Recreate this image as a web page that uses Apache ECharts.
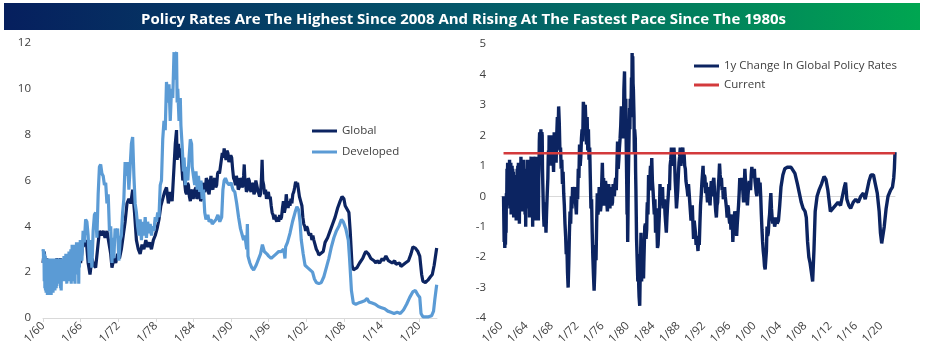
<!DOCTYPE html>
<html>
<head>
    <meta charset="utf-8">
    <title>Policy Rates</title>
    <script src="https://cdn.jsdelivr.net/npm/echarts@6/dist/echarts.min.js"></script>
    <style>
        body { margin: 0; background: #fff; }
    </style>
</head>
<body>
    <div id="main" style="width: 927px;height:352px;"></div>

    <script type="text/javascript">
        // [year, value]
        var globalRate = [[1960.0,2.4],[1960.2,2.9],[1960.4,2.2],[1960.6,2.6],[1960.8,2.0],[1961.0,2.5],[1961.3,2.1],[1961.6,2.5],[1961.9,2.1],[1962.2,2.6],[1962.5,2.2],[1962.8,2.6],[1963.0,1.7],[1963.3,2.4],[1963.6,1.8],[1963.9,2.6],[1964.2,1.8],[1964.5,2.7],[1964.8,1.9],[1965.1,2.8],[1965.4,2.0],[1965.7,2.9],[1966.0,2.4],[1966.3,3.1],[1966.6,3.2],[1966.9,3.4],[1967.2,2.4],[1967.5,1.9],[1967.8,2.6],[1968.1,2.3],[1968.4,2.2],[1968.7,3.0],[1969.0,3.8],[1969.3,3.6],[1969.6,3.8],[1969.9,3.5],[1970.2,3.8],[1970.5,3.3],[1970.8,2.8],[1971.0,2.2],[1971.3,2.6],[1971.6,2.4],[1971.9,2.8],[1972.2,2.6],[1972.5,3.0],[1972.8,3.6],[1973.1,4.2],[1973.4,5.0],[1973.7,5.2],[1974.0,5.0],[1974.3,5.6],[1974.6,4.6],[1974.9,3.4],[1975.2,3.0],[1975.5,2.8],[1975.8,3.2],[1976.1,3.0],[1976.4,3.4],[1976.7,3.1],[1977.0,3.3],[1977.3,3.0],[1977.6,3.4],[1977.9,3.6],[1978.2,3.9],[1978.5,4.3],[1978.8,4.9],[1979.1,5.2],[1979.4,5.5],[1979.7,5.7],[1980.0,5.0],[1980.3,5.5],[1980.6,5.1],[1980.9,6.6],[1981.1,7.6],[1981.3,8.2],[1981.4,6.9],[1981.6,7.6],[1981.8,7.0],
            [1982.0,7.4],[1982.15,6.6],[1982.3,6.0],[1982.45,6.3],[1982.6,5.9],[1982.75,5.5],[1982.9,5.4],[1983.05,5.9],[1983.2,5.8],[1983.35,5.3],[1983.5,5.1],[1983.65,5.5],[1983.8,5.6],[1983.95,5.2],[1984.1,5.2],[1984.25,5.6],[1984.4,5.7],[1984.55,5.2],[1984.7,5.3],[1984.85,5.7],[1985.0,5.6],[1985.15,5.1],[1985.3,5.2],[1985.45,5.7],[1985.6,5.9],[1985.75,5.5],[1985.9,5.6],[1986.05,6.1],[1986.2,6.0],[1986.35,5.5],[1986.5,5.4],[1986.65,5.9],[1986.8,6.2],[1986.95,5.7],[1987.1,5.6],[1987.25,6.0],[1987.4,6.1],[1987.55,5.7],[1987.7,5.8],[1987.85,6.3],[1988.0,6.4],[1988.15,6.3],[1988.3,6.6],[1988.45,6.9],[1988.6,7.2],[1988.75,7.0],[1988.9,7.4],[1989.05,7.1],[1989.2,6.9],[1989.35,7.3],[1989.5,7.2],[1989.65,6.8],[1989.8,6.8],[1989.95,7.1],[1990.1,7.0],[1990.25,6.5],[1990.4,6.1],[1990.55,6.0],[1990.7,5.8],[1990.85,6.2],[1991.0,6.0],[1991.15,5.6],[1991.3,5.7],[1991.45,6.1],[1991.6,6.0],[1991.75,5.7],[1991.9,5.8],[1992.0,6.2],[1992.1,6.7],[1992.2,6.1],[1992.3,5.9],[1992.45,5.5],[1992.6,5.6],[1992.75,6.1],[1992.9,6.0],[1993.05,5.6],[1993.2,5.5],[1993.35,5.9],[1993.5,5.8],[1993.65,5.4],[1993.8,5.5],[1993.95,6.0],[1994.1,6.0],[1994.25,5.6],[1994.4,5.6],[1994.55,5.3],[1994.7,5.4],[1994.85,6.1],[1994.95,6.9],[1995.05,6.0],[1995.2,5.8],[1995.35,5.4],[1995.5,5.6],[1995.65,5.2],[1995.8,5.4],[1995.95,5.5],[1996.1,5.2],[1996.25,5.3],[1996.4,4.9],[1996.55,4.6],[1996.7,4.5],[1996.85,4.3],[1997.0,4.5],[1997.15,4.3],[1997.3,4.2],[1997.45,4.4],[1997.6,4.2],[1997.75,4.5],[1997.9,4.3],[1998.05,4.4],[1998.2,4.8],[1998.35,5.1],[1998.5,4.6],[1998.65,4.8],[1998.8,5.4],[1998.95,5.0],[1999.1,4.8],[1999.25,5.1],[1999.4,4.9],[1999.55,5.2],[1999.7,5.0],[1999.85,5.4],[2000.0,5.5],[2000.15,5.7],[2000.3,5.95],[2000.45,5.8],[2000.6,5.9],[2000.75,5.6],[2000.9,5.3],
            [2001.1,5.1],[2001.3,4.9],[2001.45,4.4],[2001.6,4.1],[2001.75,4.0],[2001.9,3.8],[2002.05,4.0],[2002.2,3.9],[2002.35,3.7],[2002.5,3.6],[2002.7,3.7],[2002.9,3.4],[2003.05,3.6],[2003.2,3.4],[2003.4,3.2],[2003.6,3.0],[2003.8,2.9],[2004.0,2.75],[2004.3,2.7],[2004.7,2.9],[2005.0,3.3],[2005.4,3.5],[2005.8,3.8],[2006.2,4.1],[2006.6,4.4],[2007.0,4.8],[2007.4,5.1],[2007.7,5.3],[2008.0,5.2],[2008.2,4.9],[2008.4,4.8],[2008.6,4.7],[2008.8,4.6],[2009.0,3.8],[2009.3,2.3],[2009.5,2.1],[2009.7,2.1],[2010.1,2.2],[2010.5,2.4],[2011.0,2.6],[2011.3,2.8],[2011.5,2.9],[2011.9,2.8],[2012.3,2.6],[2012.8,2.5],[2013.1,2.4],[2013.3,2.5],[2013.7,2.4],[2014.1,2.6],[2014.3,2.5],[2014.5,2.5],[2014.7,2.7],[2014.9,2.7],[2015.1,2.5],[2015.3,2.5],[2015.7,2.4],[2016.1,2.5],[2016.3,2.35],[2016.5,2.3],[2016.9,2.4],[2017.1,2.25],[2017.3,2.3],[2017.8,2.4],[2018.3,2.5],[2018.7,2.8],[2019.0,3.1],[2019.4,3.05],[2019.8,2.9],[2020.1,2.7],[2020.4,1.9],[2020.6,1.6],[2021.0,1.55],[2021.4,1.65],[2021.8,1.8],[2022.1,1.9],[2022.4,2.3],[2022.8,3.05]]

        var developedRate = [[1960.00,2.9],[1960.05,3.0],[1960.10,2.4],[1960.15,2.9],[1960.20,1.6],[1960.25,2.8],[1960.30,1.3],[1960.35,2.7],[1960.40,1.2],[1960.45,2.6],[1960.50,1.1],[1960.55,2.5],[1960.60,1.1],[1960.65,2.6],[1960.70,1.0],[1960.75,2.4],[1960.80,1.0],[1960.85,2.6],[1960.90,1.0],[1960.95,2.5],[1961.00,1.0],[1961.05,2.6],[1961.10,1.0],[1961.15,2.4],[1961.20,1.1],[1961.25,2.6],[1961.30,1.0],[1961.35,2.5],[1961.40,1.1],[1961.45,2.6],[1961.50,1.1],[1961.55,2.4],[1961.60,1.1],[1961.65,2.6],[1961.70,1.2],[1961.75,2.5],[1961.80,1.2],[1961.85,2.6],[1961.90,1.2],[1961.95,2.5],[1962.00,1.3],[1962.05,2.6],[1962.10,1.3],[1962.15,2.5],[1962.20,1.4],[1962.25,2.6],[1962.30,1.5],[1962.35,2.5],[1962.40,1.6],[1962.45,2.6],[1962.50,1.8],[1962.55,2.5],[1962.60,1.9],[1962.65,2.6],[1962.70,1.5],[1962.75,2.4],[1962.80,1.3],[1962.85,2.3],[1962.90,1.2],[1962.95,2.4],[1963.00,1.6],[1963.05,2.5],[1963.10,1.9],[1963.15,2.6],[1963.20,1.7],[1963.25,2.5],[1963.30,2.0],[1963.35,2.7],[1963.40,1.8],[1963.45,2.6],[1963.50,1.6],[1963.55,2.7],[1963.60,2.0],[1963.65,2.8],[1963.70,1.9],[1963.75,2.6],[1963.80,1.5],[1963.85,2.7],[1963.90,2.1],[1963.95,2.8],[1964.00,1.9],[1964.05,2.8],[1964.10,2.2],[1964.15,2.9],[1964.20,1.6],[1964.25,2.7],[1964.30,2.0],[1964.35,2.9],[1964.40,2.3],[1964.45,3.0],[1964.50,1.5],[1964.55,2.8],[1964.60,2.1],[1964.65,3.2],[1964.70,2.4],[1964.75,3.1],[1964.80,1.6],[1964.85,3.0],[1964.90,2.2],[1964.95,3.2],[1965.00,2.5],[1965.05,3.1],[1965.10,1.5],[1965.15,2.9],[1965.20,2.3],[1965.25,3.2],[1965.30,2.6],[1965.35,3.3],[1965.40,1.9],[1965.45,3.0],[1965.50,2.4],[1965.55,3.3],[1965.60,2.7],[1965.65,3.2],[1965.70,1.5],[1965.75,3.0],[1965.80,2.2],[1965.85,3.1],[1965.90,2.6],[1965.95,3.4],[1966.0,3.0],
            [1966.2,2.5],[1966.4,3.8],[1966.6,3.3],[1966.8,4.3],[1967.0,4.2],[1967.2,3.6],[1967.4,2.4],[1967.6,3.4],[1967.8,2.2],[1968.0,3.8],[1968.2,4.5],[1968.4,4.6],[1968.6,3.5],[1968.8,5.4],[1969.0,6.6],[1969.2,6.7],[1969.4,6.3],[1969.6,6.2],[1969.8,5.8],[1970.0,5.9],[1970.2,5.0],[1970.4,5.4],[1970.6,3.8],[1970.8,4.0],[1971.0,2.4],[1971.1,3.5],[1971.3,2.6],[1971.5,3.9],[1971.7,3.6],[1971.9,3.9],[1972.1,2.5],[1972.3,3.4],[1972.5,3.6],[1972.7,4.6],[1972.9,5.2],[1973.1,6.8],[1973.3,6.2],[1973.5,6.8],[1973.7,5.6],[1973.9,6.6],[1974.1,7.6],[1974.3,7.9],[1974.5,6.2],[1974.7,5.0],[1974.9,4.6],[1975.1,4.0],[1975.3,3.6],[1975.5,4.3],[1975.7,3.4],[1975.9,4.2],[1976.1,3.6],[1976.3,4.4],[1976.5,3.5],[1976.7,4.2],[1976.9,3.7],[1977.1,4.1],[1977.3,3.6],[1977.5,4.0],[1977.7,3.8],[1977.9,4.4],[1978.1,4.2],[1978.3,4.6],[1978.5,4.4],[1978.7,5.8],[1978.9,6.0],[1979.1,7.8],[1979.3,8.6],[1979.5,8.2],[1979.7,10.3],[1979.9,9.4],[1980.1,10.2],[1980.3,8.6],[1980.5,10.0],[1980.7,9.6],[1980.9,11.6],[1981.0,10.4],[1981.1,11.5],[1981.3,11.6],[1981.4,9.4],[1981.5,10.0],[1981.7,8.6],[1981.9,9.6],[1982.0,8.4],[1982.2,7.5],[1982.4,6.4],[1982.5,7.0],[1982.7,5.8],[1982.9,6.6],[1983.1,6.0],[1983.3,7.0],[1983.5,7.8],[1983.7,7.6],[1983.8,6.6],[1984.0,6.2],[1984.2,5.8],[1984.4,6.4],[1984.6,5.6],[1984.8,6.2],[1985.0,5.5],[1985.2,6.0],[1985.4,5.2],[1985.6,5.6],[1985.8,4.6],[1986.0,4.3],[1986.3,4.5],[1986.5,4.2],[1986.8,4.3],[1987.0,4.1],[1987.3,4.2],[1987.6,4.3],[1987.9,4.5],[1988.2,4.2],[1988.5,4.4],[1988.7,5.6],[1988.9,6.0],[1989.1,6.1],[1989.4,5.9],[1989.7,5.8],[1990.0,5.9],[1990.3,5.6],[1990.6,5.5],[1990.9,5.0],[1991.2,4.4],[1991.5,3.9],[1991.8,3.6],[1992.0,3.4],[1992.2,3.6],[1992.5,3.0],[1992.6,4.1],[1992.7,2.7],[1993.0,2.4],[1993.3,2.2],[1993.6,2.1],[1994.0,2.3],[1994.3,2.3],[1994.7,2.8],[1995.0,3.2],[1995.3,2.9],[1995.7,2.8],[1996.0,2.7],[1996.4,2.6],[1996.8,2.7],[1997.2,2.8],[1997.6,2.9],[1998.0,2.9],[1998.4,3.0],[1998.6,2.6],[1998.7,3.1],[1999.0,3.3],[1999.4,3.7],[1999.8,4.2],[2000.2,4.6],[2000.5,4.85],[2000.8,4.7],[2001.0,4.2],[2001.2,3.4],[2001.5,2.8],[2001.8,2.3],[2002.2,2.2],[2002.6,2.1],[2003.0,2.0],[2003.3,1.7],[2003.6,1.55],[2004.0,1.5],[2004.4,1.55],[2004.8,1.8],[2005.2,2.2],[2005.6,2.6],[2006.0,3.1],[2006.4,3.5],[2006.8,3.8],[2007.2,4.0],[2007.6,4.3],[2007.9,4.2],[2008.3,3.9],[2008.7,3.4],[2008.9,2.6],[2009.2,1.2],[2009.5,0.65],[2009.9,0.6],[2010.3,0.65],[2010.8,0.7],[2011.3,0.75],[2011.7,0.85],[2012.0,0.7],[2012.5,0.65],[2013.0,0.6],[2013.5,0.5],[2014.0,0.45],[2014.5,0.4],[2015.0,0.3],[2015.5,0.25],[2016.0,0.2],[2016.5,0.25],[2017.0,0.2],[2017.5,0.35],[2018.0,0.6],[2018.5,0.9],[2019.0,1.15],[2019.4,1.2],[2019.8,1.0],[2020.1,0.9],[2020.3,0.2],[2020.6,0.05],[2021.0,0.05],[2021.5,0.05],[2022.0,0.1],[2022.3,0.3],[2022.5,0.8],[2022.8,1.45]]

        var globalChange = [[1960.40,0.0],[1960.45,-0.8],[1960.50,-1.5],[1960.55,-1.2],[1960.60,-1.7],[1960.65,-1.4],[1960.70,-1.6],[1960.75,-0.9],[1960.80,-1.2],[1960.85,0.1],[1960.90,-0.3],[1960.95,0.9],[1961.00,0.3],[1961.05,1.1],[1961.10,0.5],[1961.15,1.1],[1961.20,-0.2],[1961.25,0.9],[1961.30,0.2],[1961.35,1.2],[1961.40,-0.4],[1961.45,0.8],[1961.50,0.0],[1961.55,1.1],[1961.60,-0.6],[1961.65,0.7],[1961.70,0.1],[1961.75,1.0],[1961.80,-0.3],[1961.85,0.9],[1961.90,-0.1],[1961.95,0.8],[1962.00,-0.7],[1962.05,0.6],[1962.10,-0.2],[1962.15,0.7],[1962.20,0.1],[1962.25,0.6],[1962.30,-0.4],[1962.35,0.5],[1962.40,-0.8],[1962.45,0.4],[1962.50,-0.1],[1962.55,0.9],[1962.60,-0.3],[1962.65,1.0],[1962.70,0.2],[1962.75,1.1],[1962.80,-0.6],[1962.85,0.7],[1962.90,-0.9],[1962.95,0.4],[1963.00,-0.2],[1963.05,1.0],[1963.10,0.3],[1963.15,1.3],[1963.20,0.1],[1963.25,0.9],[1963.30,-0.5],[1963.35,1.1],[1963.40,0.0],[1963.45,0.8],[1963.50,-0.3],[1963.55,1.2],[1963.60,0.4],[1963.65,0.9],[1963.70,-0.2],[1963.75,0.7],[1963.80,-0.6],[1963.85,0.5],[1963.90,-1.0],[1963.95,0.2],[1964.00,-0.4],[1964.05,0.9],[1964.10,0.1],[1964.15,1.2],[1964.20,0.3],[1964.25,1.0],[1964.30,-0.3],[1964.35,1.1],[1964.40,0.2],[1964.45,0.8],[1964.50,-0.7],[1964.55,0.6],[1964.60,0.0],[1964.65,1.2],[1964.70,0.4],[1964.75,1.3],[1964.80,-0.1],[1964.85,1.0],[1964.90,-0.5],[1964.95,0.9],[1965.00,-1.0],[1965.05,0.6],[1965.10,0.1],[1965.15,1.3],[1965.20,0.5],[1965.25,1.1],[1965.30,-0.2],[1965.35,1.2],[1965.40,-0.8],[1965.45,0.7],[1965.50,0.2],[1965.55,1.3],[1965.60,-0.4],[1965.65,0.9],[1965.70,-0.6],[1965.75,0.6],[1965.80,-0.2],[1965.85,0.8],[1965.90,-0.8],[1965.95,0.5],
            [1966.0,0.9],[1966.05,1.8],[1966.1,2.1],[1966.2,1.5],[1966.3,2.2],[1966.35,1.4],[1966.4,1.6],[1966.45,2.1],[1966.5,2.0],[1966.55,0.9],[1966.6,0.4],[1966.7,-0.5],[1966.8,-1.0],[1966.9,-0.3],[1967.0,-0.2],[1967.05,-0.8],[1967.1,-1.2],[1967.2,-0.5],[1967.3,0.1],[1967.4,0.6],[1967.45,1.2],[1967.5,1.5],[1967.55,1.0],[1967.6,2.0],[1967.7,1.4],[1967.8,1.7],[1967.9,1.1],[1968.0,2.0],[1968.1,1.0],[1968.2,1.4],[1968.3,0.8],[1968.4,2.1],[1968.5,1.2],[1968.6,1.6],[1968.7,1.1],[1968.8,2.0],[1968.9,2.6],[1969.0,1.9],[1969.1,2.95],[1969.2,2.4],[1969.3,1.5],[1969.4,1.6],[1969.5,0.9],[1969.6,1.2],[1969.7,0.4],[1969.8,0.8],[1969.9,0.1],[1970.0,-0.3],[1970.1,-0.9],[1970.2,-1.3],[1970.3,-1.9],[1970.4,-1.6],[1970.5,-2.5],[1970.6,-3.0],[1970.7,-2.2],[1970.8,-1.2],[1970.9,-0.5],[1971.0,-0.9],[1971.1,0.0],[1971.2,-0.4],[1971.3,0.3],[1971.4,-0.2],[1971.5,0.2],[1971.6,0.3],[1971.7,-0.1],[1971.8,-0.3],[1971.9,-0.6],[1972.0,0.2],[1972.1,-0.1],[1972.2,0.9],[1972.3,0.6],[1972.4,1.7],[1972.5,1.0],[1972.6,1.3],[1972.7,1.9],[1972.8,2.2],[1972.9,1.8],[1973.0,3.1],[1973.1,2.9],[1973.2,2.0],[1973.3,3.0],[1973.4,2.4],[1973.5,1.7],[1973.6,2.6],[1973.7,1.5],[1973.8,2.2],[1973.9,1.2],[1974.0,1.6],[1974.1,0.6],[1974.2,-0.4],[1974.3,-0.1],[1974.4,-1.2],[1974.5,-2.0],[1974.6,-2.6],[1974.7,-3.1],[1974.8,-2.5],[1974.9,-1.6],[1975.0,-2.1],[1975.1,-0.9],[1975.2,0.1],[1975.3,-0.6],[1975.4,-0.4],[1975.5,0.3],[1975.6,0.2],[1975.7,-0.5],[1975.8,-0.3],[1975.9,0.4],[1976.0,1.1],[1976.1,0.2],[1976.2,0.6],[1976.3,-0.3],[1976.4,-0.2],[1976.5,0.5],[1976.6,0.3],[1976.7,-0.2],[1976.8,-0.5],[1976.9,0.1],[1977.0,0.4],[1977.1,-0.1],[1977.2,-0.4],[1977.3,0.3],[1977.4,0.1],[1977.5,-0.3],[1977.6,-0.2],[1977.7,0.4],[1977.8,0.2],[1977.9,0.0],[1978.0,0.4],[1978.1,0.6],[1978.2,0.2],[1978.3,1.0],[1978.4,1.8],[1978.5,0.9],[1978.6,1.2],[1978.7,1.6],[1978.8,1.9],[1978.9,2.3],[1979.0,2.95],[1979.1,2.0],[1979.2,2.6],[1979.3,1.9],[1979.4,3.5],[1979.5,4.1],[1979.55,3.0],[1979.6,2.2],[1979.7,3.2],[1979.75,2.0],[1979.8,1.2],[1979.85,0.4],[1979.9,-0.6],[1979.95,0.3],[1980.0,-1.5],[1980.05,-0.6],[1980.1,0.6],[1980.2,1.8],[1980.3,2.9],[1980.35,2.2],[1980.4,3.2],[1980.5,2.6],[1980.6,3.9],[1980.65,3.1],[1980.7,4.7],[1980.75,4.0],[1980.8,4.6],[1980.85,3.7],[1980.9,3.5],[1981.0,2.6],[1981.05,1.4],[1981.1,2.2],[1981.2,1.9],[1981.25,0.8],[1981.3,0.2],[1981.35,-0.6],[1981.4,-1.4],[1981.5,-2.1],[1981.6,-2.8],[1981.65,-1.9],[1981.7,-2.4],[1981.75,-3.0],[1981.8,-3.3],[1981.9,-3.6],[1981.95,-2.9],[1982.0,-2.6],[1982.05,-1.8],[1982.1,-1.2],[1982.15,-2.2],[1982.2,-2.8],[1982.3,-2.0],[1982.4,-1.6],[1982.45,-2.3],[1982.5,-2.7],[1982.55,-2.2],[1982.6,-1.8],[1982.7,-1.0],[1982.8,-0.9],[1982.9,-1.4],[1983.0,-1.1],[1983.05,-0.5],[1983.1,-0.2],[1983.2,-0.6],[1983.3,0.7],[1983.4,0.3],[1983.5,0.2],[1983.55,0.8],[1983.6,1.0],[1983.7,0.6],[1983.8,1.25],[1983.9,0.5],[1984.0,0.2],[1984.1,-0.2],[1984.2,-0.6],[1984.3,-0.1],[1984.4,-1.2],[1984.5,-0.4],[1984.6,-0.9],[1984.7,-1.7],[1984.8,-1.6],[1984.9,-1.1],[1985.0,-0.6],[1985.1,0.4],[1985.2,0.0],[1985.3,-0.3],[1985.4,0.1],[1985.5,0.3],[1985.6,-0.4],[1985.7,-0.2],[1985.8,-0.1],[1985.9,-0.6],[1986.0,-0.9],[1986.1,-1.2],[1986.2,-0.7],[1986.3,-0.3],[1986.4,0.0],[1986.5,0.4],[1986.6,0.2],[1986.7,1.0],[1986.8,1.2],[1986.9,1.6],[1987.0,1.1],[1987.1,1.3],[1987.2,1.0],[1987.3,1.6],[1987.4,1.2],[1987.5,0.5],[1987.6,0.1],[1987.7,-0.4],[1987.8,-0.1],[1987.9,0.2],[1988.0,0.7],[1988.1,1.1],[1988.2,1.3],[1988.3,1.6],[1988.4,1.0],[1988.5,1.3],[1988.6,1.5],[1988.7,1.6],[1988.8,1.2],[1988.9,1.4],[1989.0,1.0],[1989.1,0.9],[1989.2,0.5],[1989.3,0.45],[1989.4,0.2],[1989.5,0.0],[1989.6,0.4],[1989.7,0.1],[1989.8,-0.2],[1989.9,-0.5],[1990.0,-0.8],[1990.1,-0.4],[1990.2,-0.3],[1990.3,-0.9],[1990.4,-1.4],[1990.5,-0.8],[1990.6,-1.0],[1990.7,-1.2],[1990.8,-1.6],[1990.9,-1.3],[1991.1,-1.8],[1991.2,-1.4],[1991.3,-1.6],[1991.4,-0.9],[1991.5,-0.3],[1991.6,0.0],[1991.7,0.4],[1991.8,0.7],[1991.9,1.0],[1992.0,0.3],[1992.1,0.7],[1992.2,0.6],[1992.3,0.1],[1992.4,0.45],[1992.5,0.1],[1992.6,-0.2],[1992.7,0.3],[1992.8,0.2],[1992.9,-0.1],[1993.0,-0.3],[1993.1,0.2],[1993.2,0.5],[1993.3,0.0],[1993.4,0.1],[1993.5,0.5],[1993.6,0.6],[1993.7,0.2],[1993.8,-0.2],[1993.9,-0.5],[1994.0,-0.7],[1994.1,-0.3],[1994.2,-0.2],[1994.3,0.3],[1994.4,0.6],[1994.5,1.07],[1994.6,0.7],[1994.7,0.4],[1994.8,0.6],[1994.9,0.2],[1995.0,0.3],[1995.1,-0.1],[1995.2,0.2],[1995.3,0.3],[1995.4,0.0],[1995.5,-0.2],[1995.6,-0.4],[1995.7,-0.7],[1995.8,-0.3],[1995.9,-0.4],[1996.0,-0.7],[1996.1,-0.9],[1996.2,-0.6],[1996.3,-1.1],[1996.4,-0.8],[1996.5,-0.6],[1996.6,-1.5],[1996.7,-1.0],[1996.8,-0.8],[1996.9,-0.5],[1997.0,-0.6],[1997.1,-0.9],[1997.2,-1.3],[1997.3,-0.9],[1997.4,-0.6],[1997.5,-0.3],[1997.6,0.1],[1997.7,0.6],[1997.8,0.4],[1997.9,0.2],[1998.0,0.6],[1998.1,0.5],[1998.2,0.1],[1998.3,-0.2],[1998.4,0.3],[1998.5,0.9],[1998.6,0.5],[1998.7,0.3],[1998.8,-0.1],[1998.9,-0.3],[1999.0,0.05],[1999.1,0.3],[1999.2,0.5],[1999.3,0.4],[1999.4,0.2],[1999.5,0.7],[1999.6,0.96],[1999.7,0.7],[1999.8,0.6],[1999.9,0.8],[2000.0,0.9],[2000.1,0.5],[2000.2,0.3],[2000.3,0.1],[2000.4,0.0],[2000.5,0.3],[2000.6,0.6],[2000.7,0.4],[2000.8,0.2],[2000.9,0.45],
            [2001.0,0.0],[2001.1,-0.6],[2001.2,-1.1],[2001.3,-1.5],[2001.4,-1.8],[2001.5,-2.0],[2001.6,-2.3],[2001.7,-2.4],[2001.8,-2.1],[2001.9,-1.8],[2002.0,-1.0],[2002.1,-1.3],[2002.2,-1.2],[2002.3,-0.8],[2002.4,-0.6],[2002.5,-0.2],[2002.6,0.1],[2002.7,-0.4],[2002.8,-0.7],[2002.9,-0.9],[2003.0,-0.7],[2003.1,-0.8],[2003.2,-1.0],[2003.3,-0.9],[2003.5,-0.7],[2003.6,-0.9],[2003.8,-0.8],[2004.0,-0.3],[2004.2,0.3],[2004.5,0.7],[2004.8,0.9],[2005.2,0.95],[2005.5,1.0],[2005.8,0.95],[2006.1,0.9],[2006.4,0.75],[2006.8,0.4],[2007.1,0.1],[2007.4,-0.2],[2007.7,-0.4],[2008.0,-0.5],[2008.2,-0.7],[2008.4,-1.5],[2008.6,-2.0],[2008.8,-2.2],[2009.0,-2.5],[2009.2,-2.8],[2009.4,-1.8],[2009.6,-0.5],[2009.9,0.0],[2010.2,0.2],[2010.6,0.4],[2011.0,0.65],[2011.3,0.55],[2011.6,0.2],[2012.0,-0.5],[2012.4,-0.4],[2012.8,-0.3],[2013.2,-0.2],[2013.6,-0.3],[2013.9,0.0],[2014.2,0.3],[2014.4,0.45],[2014.6,-0.1],[2014.9,-0.3],[2015.2,-0.4],[2015.6,-0.2],[2016.0,-0.1],[2016.4,-0.2],[2016.8,0.0],[2017.2,0.1],[2017.5,-0.1],[2017.8,0.2],[2018.1,0.5],[2018.4,0.7],[2018.8,0.7],[2019.1,0.4],[2019.4,0.1],[2019.7,-0.5],[2019.9,-1.2],[2020.1,-1.55],[2020.3,-1.5],[2020.5,-1.0],[2020.8,-0.4],[2021.1,0.0],[2021.5,0.2],[2021.8,0.3],[2022.0,0.6],[2022.1,0.9],[2022.2,1.45]]

        var currentChange = [[1960.4,1.41],[2022.2,1.41]]

        var leftYTicks = [0, 12, 2]     // min, max, step
        var rightYTicks = [-4, 5, 1]

        var baseYear = 1960
        var toOffset = function(points) {
            return points.map(function(p) { return [p[0] - baseYear, p[1]] })
        }

        var yearLabel = function(step) {
            return function(v) {
                if (Math.abs(v % step) > 0.001) return ''
                var yy = (baseYear + Math.round(v)) % 100
                return '1/' + (yy < 10 ? '0' + yy : yy)
            }
        }

        var font = '"Liberation Sans Narrow", "Open Sans", sans-serif'
        var labelColor = '#404040'

        var myChart = echarts.init(document.getElementById('main'))

        var option = {
            animation: false,
            backgroundColor: '#fff',
            title: {
                text: 'Policy Rates Are The Highest Since 2008 And Rising At The Fastest Pace Since The 1980s',
                left: 'center',
                top: 7,
                textStyle: { color: '#fff', fontSize: 15, fontWeight: 'bold', fontFamily: font }
            },
            graphic: [{
                type: 'rect',
                z: -1,
                shape: { x: 4, y: 3, width: 916, height: 27 },
                style: {
                    fill: new echarts.graphic.LinearGradient(0, 0, 1, 0, [
                        { offset: 0, color: '#061f5e' },
                        { offset: 0.5, color: '#04576a' },
                        { offset: 1, color: '#00a651' }
                    ])
                }
            }],
            legend: [{
                data: ['Global', 'Developed'],
                orient: 'vertical',
                left: 307,
                top: 120,
                icon: 'rect',
                itemWidth: 25,
                itemHeight: 3,
                itemGap: 9,
                textStyle: { color: labelColor, fontSize: 11.5, fontFamily: font }
            }, {
                data: ['1y Change In Global Policy Rates', 'Current'],
                orient: 'vertical',
                left: 689,
                top: 55,
                icon: 'rect',
                itemWidth: 25,
                itemHeight: 3,
                itemGap: 7,
                textStyle: { color: labelColor, fontSize: 11.5, fontFamily: font }
            }],
            grid: [
                { left: 43, top: 43, width: 394, height: 275 },
                { left: 501, top: 44, width: 394, height: 274 }
            ],
            xAxis: [{
                type: 'value',
                gridIndex: 0,
                min: 0,
                max: 62.85,
                interval: 6,
                splitLine: { show: false },
                axisLine: { lineStyle: { color: '#d9d9d9' } },
                axisTick: { lineStyle: { color: '#d9d9d9' }, length: 4 },
                axisLabel: {
                    rotate: 45, margin: 6, showMaxLabel: false,
                    color: labelColor, fontSize: 11.5, fontFamily: font,
                    formatter: yearLabel(6)
                }
            }, {
                type: 'value',
                gridIndex: 1,
                min: 0,
                max: 62.2,
                interval: 4,
                splitLine: { show: false },
                axisLine: { show: false, onZero: false },
                axisTick: { show: false },
                axisLabel: {
                    rotate: 45, margin: 6, showMaxLabel: false,
                    color: labelColor, fontSize: 11.5, fontFamily: font,
                    formatter: yearLabel(4)
                }
            }, {
                // zero line of the right chart
                type: 'value',
                gridIndex: 1,
                min: 0,
                max: 62.2,
                splitLine: { show: false },
                axisLine: { onZero: true, lineStyle: { color: '#d9d9d9' } },
                axisTick: { show: false },
                axisLabel: { show: false }
            }],
            yAxis: [{
                type: 'value',
                gridIndex: 0,
                min: leftYTicks[0],
                max: leftYTicks[1],
                interval: leftYTicks[2],
                splitLine: { show: false },
                axisLine: { show: false },
                axisTick: { show: false },
                axisLabel: { margin: 12, color: labelColor, fontSize: 11.5, fontFamily: font }
            }, {
                type: 'value',
                gridIndex: 1,
                min: rightYTicks[0],
                max: rightYTicks[1],
                interval: rightYTicks[2],
                splitLine: { show: false },
                axisLine: { show: false },
                axisTick: { show: false },
                axisLabel: { margin: 15, color: labelColor, fontSize: 11.5, fontFamily: font }
            }],
            series: [{
                name: 'Global',
                type: 'line',
                xAxisIndex: 0,
                yAxisIndex: 0,
                symbol: 'none',
                color: '#0c2461',
                lineStyle: { width: 3.2, color: '#0c2461' },
                data: toOffset(globalRate)
            }, {
                name: 'Developed',
                type: 'line',
                xAxisIndex: 0,
                yAxisIndex: 0,
                symbol: 'none',
                color: '#5b9bd5',
                lineStyle: { width: 3.2, color: '#5b9bd5' },
                data: toOffset(developedRate)
            }, {
                name: '1y Change In Global Policy Rates',
                type: 'line',
                xAxisIndex: 1,
                yAxisIndex: 1,
                symbol: 'none',
                color: '#0c2461',
                lineStyle: { width: 3.4, color: '#0c2461' },
                data: toOffset(globalChange)
            }, {
                name: 'Current',
                type: 'line',
                xAxisIndex: 1,
                yAxisIndex: 1,
                symbol: 'none',
                color: '#d33a3c',
                lineStyle: { width: 2.5, color: '#d33a3c' },
                data: toOffset(currentChange)
            }]
        }

        myChart.setOption(option)
    </script>
</body>
</html>
